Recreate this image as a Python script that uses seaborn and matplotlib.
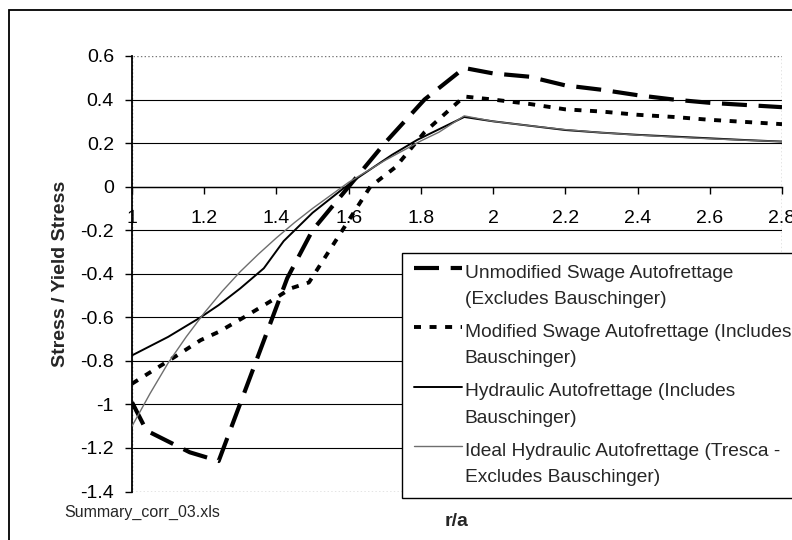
import numpy as np
import pandas as pd
import matplotlib
matplotlib.use('Agg')
import matplotlib.pyplot as plt
from matplotlib.patches import Rectangle
from matplotlib.legend_handler import HandlerLine2D
import seaborn as sns

# r/a positions and stress ratios
unmod_x = [1.0, 1.04, 1.1, 1.16, 1.24, 1.43, 1.50, 1.60, 1.70, 1.81, 1.92,
           2.0, 2.1, 2.2, 2.3, 2.4, 2.5, 2.6, 2.7, 2.8]
unmod_y = [-0.99, -1.12, -1.17, -1.22, -1.26, -0.42, -0.2, 0.0, 0.2, 0.4, 0.545,
           0.52, 0.505, 0.465, 0.445, 0.42, 0.40, 0.385, 0.375, 0.365]

mod_x = [1.0, 1.12, 1.19, 1.24, 1.31, 1.39, 1.44, 1.49, 1.66, 1.73, 1.81, 1.92,
         2.0, 2.1, 2.2, 2.3, 2.4, 2.5, 2.6, 2.7, 2.8]
mod_y = [-0.905, -0.78, -0.705, -0.667, -0.60, -0.52, -0.467, -0.44, 0.0, 0.09, 0.25, 0.414,
         0.40, 0.38, 0.355, 0.345, 0.33, 0.32, 0.307, 0.297, 0.287]

hyd_x = [1.0, 1.1, 1.19, 1.24, 1.30, 1.365, 1.42, 1.50, 1.58, 1.63, 1.72, 1.79, 1.92,
         2.0, 2.1, 2.2, 2.3, 2.4, 2.5, 2.6, 2.7, 2.8]
hyd_y = [-0.775, -0.69, -0.60, -0.544, -0.467, -0.375, -0.25, -0.12, -0.015, 0.046, 0.146, 0.215, 0.32,
         0.30, 0.28, 0.26, 0.248, 0.238, 0.23, 0.222, 0.214, 0.207]

ideal_x = [1.0, 1.05, 1.1, 1.15, 1.2, 1.25, 1.3, 1.35, 1.4, 1.45, 1.5, 1.55, 1.6, 1.65,
           1.7, 1.75, 1.8, 1.85, 1.92, 2.0, 2.1, 2.2, 2.3, 2.4, 2.5, 2.6, 2.7, 2.8]
ideal_y = [-1.10, -0.95, -0.81, -0.69, -0.58, -0.48, -0.39, -0.31, -0.235, -0.165, -0.10, -0.04, 0.02, 0.07,
           0.12, 0.165, 0.21, 0.25, 0.325, 0.30, 0.28, 0.262, 0.248, 0.237, 0.228, 0.22, 0.213, 0.207]

labels = ['Unmodified Swage Autofrettage\n(Excludes Bauschinger)',
          'Modified Swage Autofrettage (Includes\nBauschinger)',
          'Hydraulic Autofrettage (Includes\nBauschinger)',
          'Ideal Hydraulic Autofrettage (Tresca -\nExcludes Bauschinger)']

x_ticks = [1.0, 1.2, 1.4, 1.6, 1.8, 2.0, 2.2, 2.4, 2.6, 2.8]
y_ticks = [-1.4, -1.2, -1.0, -0.8, -0.6, -0.4, -0.2, 0.0, 0.2, 0.4, 0.6]


class FirstLineHandler(HandlerLine2D):
    # put the legend sample next to the first text line, like Excel does
    def __init__(self, shift, **kw):
        super().__init__(**kw)
        self.shift = shift

    def create_artists(self, legend, orig_handle, xdescent, ydescent, width, height, fontsize, trans):
        arts = super().create_artists(legend, orig_handle, xdescent, ydescent,
                                      width, height, fontsize, trans)
        for a in arts:
            a.set_ydata(np.asarray(a.get_ydata()) + self.shift * fontsize)
        return arts


sns.set_theme(style='white')
plt.rcParams['font.family'] = ['Liberation Sans', 'DejaVu Sans']

fig = plt.figure(figsize=(7.92, 5.4), dpi=100)
ax = fig.add_axes([132 / 792, 1 - 491.5 / 540, 650 / 792, 435.5 / 540])

styles = [
    (unmod_x, unmod_y, dict(color='black', linewidth=3.0, linestyle=(0, (6, 2.8)))),
    (mod_x, mod_y, dict(color='black', linewidth=2.8, linestyle=(0, (1.8, 2.2)))),
    (hyd_x, hyd_y, dict(color='black', linewidth=1.4, linestyle='-')),
    (ideal_x, ideal_y, dict(color='#6e6e6e', linewidth=1.0, linestyle='-')),
]
handles = []
for (xs, ys, kw), lab in zip(styles, labels):
    df = pd.DataFrame({'r': xs, 's': ys})
    sns.lineplot(data=df, x='r', y='s', ax=ax, sort=False, zorder=3, **kw)
    handles.append(ax.lines[-1])

ax.set_xlim(1.0, 2.8)
ax.set_ylim(-1.4, 0.6)
ax.set_xticks(x_ticks, [f'{v:g}' for v in x_ticks])
ax.set_yticks(y_ticks, [f'{v:g}' for v in y_ticks])

ax.grid(axis='y', color='black', linewidth=0.8)
ax.set_axisbelow(True)
gl = ax.get_ygridlines()
gl[0].set_visible(False)
gl[-1].set_visible(False)

for side in ['top', 'right']:
    ax.spines[side].set_visible(False)
ax.spines['left'].set_color('black')
ax.spines['left'].set_linewidth(1.3)
ax.spines['bottom'].set_position(('data', 0))
ax.spines['bottom'].set_color('black')
ax.spines['bottom'].set_linewidth(1.0)
ax.add_patch(Rectangle((0, 0), 1, 1, transform=ax.transAxes, fill=False,
                       edgecolor='#777777', linestyle=':', linewidth=1.0, zorder=1))

ax.tick_params(axis='x', direction='out', length=5, width=1, pad=12, labelsize=14, colors='black')
ax.tick_params(axis='y', direction='out', length=5, width=1, pad=8, labelsize=14, colors='black')
ax.tick_params(left=True, bottom=True)

ax.set_ylabel('Stress / Yield Stress', fontsize=14, fontweight='bold', va='center')
ax.yaxis.set_label_coords(-0.11, 0.5)
ax.set_xlabel('r/a', fontsize=14, fontweight='bold', va='center')
ax.xaxis.set_label_coords(0.5, -0.07)

handler = FirstLineHandler(0.96)
leg = ax.legend(handles, labels, loc='upper left', bbox_to_anchor=(401.7 / 792, 1 - 252.7 / 540),
                bbox_transform=fig.transFigure, borderaxespad=0, fontsize=13.8,
                frameon=True, fancybox=False, shadow=False, framealpha=1,
                edgecolor='black', facecolor='white', handlelength=2.55, handletextpad=0.12,
                labelspacing=0.83, borderpad=0.62,
                handler_map={h: handler for h in handles})
leg.get_frame().set_linewidth(1.0)
leg.set_zorder(5)
for t in leg.get_texts():
    t.set_linespacing(1.73)

fig.text(64 / 792, 1 - 512 / 540, 'Summary_corr_03.xls', fontsize=11.5, ha='left', va='center')

fig.patches.append(Rectangle((8.5 / 792, -0.1), 1.2, 1 - 10 / 540 + 0.1, transform=fig.transFigure,
                             fill=False, edgecolor='black', linewidth=1.3))

fig.savefig('out.png', dpi=100)
